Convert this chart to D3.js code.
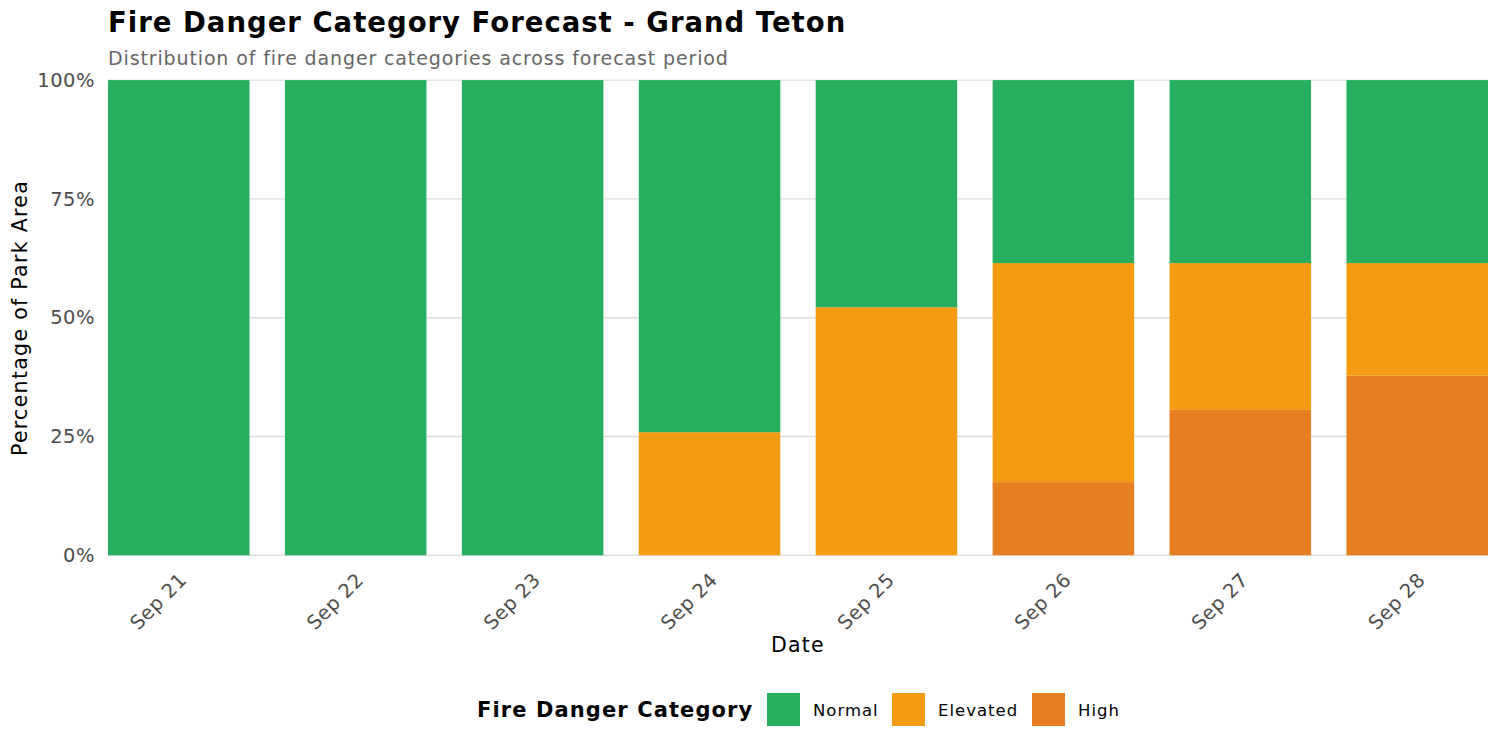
<!DOCTYPE html>
<html><head><meta charset="utf-8">
<script src="https://cdn.jsdelivr.net/npm/d3@7"></script>
<style>body{margin:0;background:#fff;font-family:"DejaVu Sans",sans-serif}</style>
</head><body>
<svg id="chart" width="1500" height="750"></svg>
<script>
const dates = ["Sep 21","Sep 22","Sep 23","Sep 24","Sep 25","Sep 26","Sep 27","Sep 28"];
const categories = ["Normal","Elevated","High"];
const normalPct   = [100,100,100,74.1,47.8,38.5,38.5,38.5];
const elevatedPct = [0,0,0,25.9,52.2,46.1,30.9,23.7];
const highPct     = [0,0,0,0,0,15.4,30.6,37.8];
const yTicks = [0,25,50,75,100];
const colors = {Normal:"#27ae60", Elevated:"#f39c12", High:"#e67e22"};

const svg = d3.select("#chart");
const L=108, R=1488, T=80.1, B=555.3;

const rows = dates.map((d,i)=>({date:d, Normal:normalPct[i], Elevated:elevatedPct[i], High:highPct[i]}));
const stack = d3.stack().keys(["High","Elevated","Normal"])(rows);

const x = d3.scaleBand().domain(dates).range([L,R]).paddingInner(0.2).paddingOuter(0);
const y = d3.scaleLinear().domain([0,100]).range([B,T]);

// gridlines
svg.append("g").selectAll("line").data(yTicks).join("line")
  .attr("x1",L).attr("x2",R).attr("y1",d=>y(d)).attr("y2",d=>y(d))
  .attr("stroke","#dedede").attr("stroke-width",1.4);

// bars
svg.append("g").selectAll("g").data(stack).join("g")
  .attr("fill",d=>colors[d.key])
  .selectAll("rect").data(d=>d).join("rect")
  .attr("x",d=>x(d.data.date)).attr("width",x.bandwidth())
  .attr("y",d=>y(d[1])).attr("height",d=>y(d[0])-y(d[1]));

// y axis labels
const yAxis = d3.axisLeft(y).tickValues(yTicks).tickFormat(d=>d+"%").tickSize(0).tickPadding(13);
const ya = svg.append("g").attr("transform",`translate(${L},0)`).call(yAxis);
ya.select(".domain").remove();
ya.selectAll("text").attr("font-family","DejaVu Sans").attr("font-size",19.5).attr("fill","#4d4d4d")
  .attr("letter-spacing",0.5);

// x axis labels
const xAxis = d3.axisBottom(x).tickSize(0);
const xa = svg.append("g").attr("transform",`translate(0,${B})`).call(xAxis);
xa.select(".domain").remove();
xa.selectAll("text").attr("font-family","DejaVu Sans").attr("font-size",19.5).attr("fill","#4d4d4d")
  .attr("letter-spacing",0.4)
  .attr("text-anchor","end").attr("dy",null).attr("y",0)
  .attr("transform","translate(9,26) rotate(-45)");

// titles
svg.append("text").attr("x",108).attr("y",32).attr("font-size",27.5).attr("font-weight","bold")
  .attr("letter-spacing",1.0).attr("fill","#000").text("Fire Danger Category Forecast - Grand Teton");
svg.append("text").attr("x",108).attr("y",65).attr("font-size",19).attr("fill","#666")
  .attr("letter-spacing",0.87).text("Distribution of fire danger categories across forecast period");
svg.append("text").attr("x",798).attr("y",652).attr("text-anchor","middle").attr("font-size",20.5)
  .attr("letter-spacing",1.2).attr("fill","#000").text("Date");
svg.append("text").attr("transform",`translate(27,318) rotate(-90)`).attr("text-anchor","middle")
  .attr("font-size",20.5).attr("letter-spacing",1.3).attr("fill","#000").text("Percentage of Park Area");

// legend
const lg = svg.append("g");
lg.append("text").attr("x",477).attr("y",717).attr("font-size",21).attr("font-weight","bold")
  .attr("letter-spacing",1.1).attr("fill","#000").text("Fire Danger Category");
const keyX = [767,892,1032];
categories.forEach((c,i)=>{
  lg.append("rect").attr("x",keyX[i]).attr("y",693).attr("width",33).attr("height",33).attr("fill",colors[c]);
  lg.append("text").attr("x",keyX[i]+46).attr("y",716).attr("font-size",16.5).attr("letter-spacing",1.0)
    .attr("fill","#000").text(c);
});
</script>
</body></html>
